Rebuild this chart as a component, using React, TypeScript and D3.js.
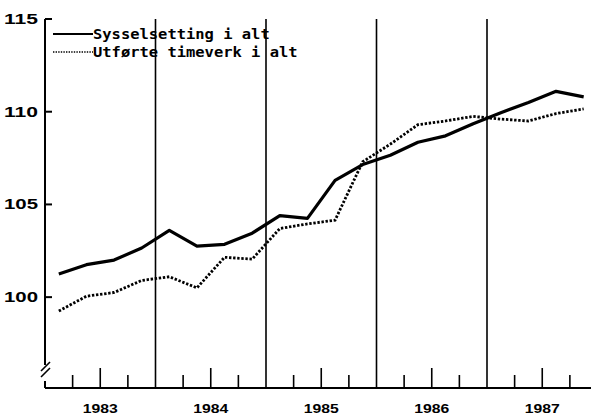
import * as React from 'react';
import {useEffect, useRef} from 'react';
import * as d3 from 'd3';

const width = 591;
const height = 416;

const years = [1983, 1984, 1985, 1986, 1987];
const quarters = [1, 2, 3, 4];
const yTicks = [100, 105, 110, 115];

// quarterly index, 1983Q1 .. 1987Q4
const sysselsetting = [
  101.25, 101.75, 102.0, 102.65,
  103.6, 102.75, 102.85, 103.45,
  104.4, 104.25, 106.3, 107.15,
  107.65, 108.35, 108.7, 109.35,
  109.95, 110.5, 111.1, 110.8
];
const timeverk = [
  99.25, 100.05, 100.25, 100.9,
  101.1, 100.5, 102.15, 102.05,
  103.7, 103.95, 104.15, 107.3,
  108.25, 109.3, 109.5, 109.75,
  109.6, 109.5, 109.9, 110.15
];

const seriesNames = ['Sysselsetting i alt', 'Utførte timeverk i alt'];

export default function App() {
  const ref = useRef<SVGSVGElement>(null);

  useEffect(() => {
    const svg = d3.select(ref.current);
    svg.selectAll('*').remove();

    const x = d3.scaleLinear().domain([1983, 1988]).range([45, 597.5]);
    const y = d3.scaleLinear().domain([95.1, 115]).range([388, 19]);

    const t = (i: number) => 1983 + (i + 0.5) / 4;

    // y axis, with a break near the bottom
    svg.append('line')
      .attr('x1', x(1983)).attr('x2', x(1983))
      .attr('y1', y(115)).attr('y2', 365)
      .attr('stroke', '#000').attr('stroke-width', 2);
    svg.append('line')
      .attr('x1', x(1983)).attr('x2', x(1983))
      .attr('y1', 381).attr('y2', y(95.1))
      .attr('stroke', '#000').attr('stroke-width', 2);
    [0, 6].forEach(o => {
      svg.append('line')
        .attr('x1', 41).attr('y1', 371 + o)
        .attr('x2', 50).attr('y2', 362 + o)
        .attr('stroke', '#000').attr('stroke-width', 1.6);
    });

    svg.append('g')
      .selectAll('line')
      .data(yTicks)
      .join('line')
      .attr('x1', x(1983)).attr('x2', x(1983) + 7)
      .attr('y1', d => y(d)).attr('y2', d => y(d))
      .attr('stroke', '#000').attr('stroke-width', 2);

    svg.append('g')
      .selectAll('text')
      .data(yTicks)
      .join('text')
      .attr('x', 38)
      .attr('y', d => y(d) + 5)
      .attr('text-anchor', 'end')
      .attr('textLength', 34)
      .attr('lengthAdjust', 'spacingAndGlyphs')
      .style('font', 'bold 14px "Liberation Sans", sans-serif')
      .text(d => d3.format('d')(d));

    // x axis
    svg.append('line')
      .attr('x1', x(1983)).attr('x2', width)
      .attr('y1', y(95.1)).attr('y2', y(95.1))
      .attr('stroke', '#000').attr('stroke-width', 2);

    const qTicks = years.flatMap(yr => quarters.slice(1).map(q => ({v: yr + (q - 1) / 4, mid: q === 3})));
    svg.append('g')
      .selectAll('line')
      .data(qTicks)
      .join('line')
      .attr('x1', d => x(d.v)).attr('x2', d => x(d.v))
      .attr('y1', y(95.1)).attr('y2', d => y(95.1) - (d.mid ? 20 : 13))
      .attr('stroke', '#000').attr('stroke-width', 1.6);

    // year boundary lines
    svg.append('g')
      .selectAll('line')
      .data(years.slice(1))
      .join('line')
      .attr('x1', d => x(d)).attr('x2', d => x(d))
      .attr('y1', y(115)).attr('y2', y(95.1))
      .attr('stroke', '#000').attr('stroke-width', 1.6);

    svg.append('g')
      .selectAll('text')
      .data(years)
      .join('text')
      .attr('x', d => x(d + 0.5))
      .attr('y', 413)
      .attr('text-anchor', 'middle')
      .attr('textLength', 35)
      .attr('lengthAdjust', 'spacingAndGlyphs')
      .style('font', 'bold 13px "Liberation Sans", sans-serif')
      .text(d => d);

    const line = d3.line<number>()
      .x((_, i) => x(t(i)))
      .y(d => y(d));

    svg.append('path')
      .attr('d', line(sysselsetting))
      .attr('fill', 'none')
      .attr('stroke', '#000')
      .attr('stroke-width', 3.2)
      .attr('stroke-linejoin', 'round');

    svg.append('path')
      .attr('d', line(timeverk))
      .attr('fill', 'none')
      .attr('stroke', '#000')
      .attr('stroke-width', 2.8)
      .attr('stroke-dasharray', '2.4 1.7');

    // legend
    const legend = svg.append('g');
    seriesNames.forEach((name, i) => {
      const ly = 34 + i * 18;
      legend.append('line')
        .attr('x1', 53).attr('x2', 93)
        .attr('y1', ly).attr('y2', ly)
        .attr('stroke', '#000')
        .attr('stroke-width', i === 0 ? 1.8 : 1.4)
        .attr('stroke-dasharray', i === 0 ? null : '1.4 1.2');
      legend.append('text')
        .attr('x', 93)
        .attr('y', ly + 5)
        .attr('textLength', name.length * 9.3)
        .attr('lengthAdjust', 'spacingAndGlyphs')
        .style('font', 'bold 14px "DejaVu Sans Mono", monospace')
        .text(name);
    });
  }, []);

  return (
    <svg
      ref={ref}
      width={width}
      height={height}
      style={{position: 'absolute', left: 0, top: 0, background: '#fff'}}
    />
  );
}
